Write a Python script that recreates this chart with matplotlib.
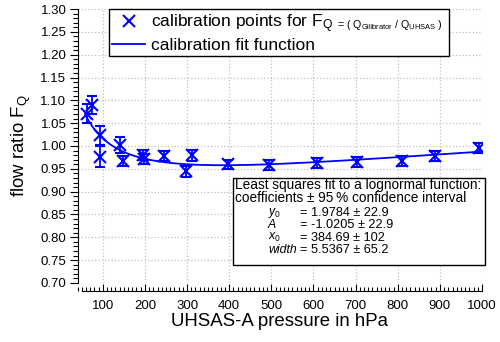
import numpy as np
import matplotlib
matplotlib.use("Agg")
import matplotlib.pyplot as plt
from matplotlib.patches import Rectangle
from matplotlib.lines import Line2D
from matplotlib.ticker import MultipleLocator

plt.rcParams['font.family'] = ['Liberation Sans', 'DejaVu Sans']
plt.rcParams['mathtext.fontset'] = 'custom'
plt.rcParams['mathtext.rm'] = 'Liberation Sans'
plt.rcParams['mathtext.it'] = 'Liberation Sans:italic'

# calibration points (pressure in hPa, flow ratio, error)
pressure = [63, 74, 93, 93, 142, 147, 196, 198, 246, 297, 311, 396,
            495, 609, 704, 810, 888, 992]
ratio = [1.071, 1.090, 1.023, 0.977, 1.002, 0.968, 0.980, 0.972, 0.978,
         0.945, 0.980, 0.960, 0.959, 0.962, 0.966, 0.968, 0.979, 0.995]
ratio_err = [0.021, 0.019, 0.020, 0.024, 0.018, 0.011, 0.011, 0.011, 0.011,
             0.012, 0.012, 0.010, 0.011, 0.011, 0.011, 0.011, 0.011, 0.011]

# lognormal fit coefficients (as printed in the box)
y0, A, x0, width = 1.9784, -1.0205, 384.69, 5.5367
coef_names = [r'$\mathit{y}_{\mathit{0}}$', 'A', r'$\mathit{x}_{\mathit{0}}$', 'width']
coef_vals = ['= 1.9784 \u00b1 22.9', '= -1.0205 \u00b1 22.9',
             '= 384.69 \u00b1 102', '= 5.5367 \u00b1 65.2']

W, H = 500, 342
blue = '#0000ff'

def fx(px):
    return px / W

def fy(py):
    return 1 - py / H

fig = plt.figure(figsize=(5, 3.42), dpi=100)
ax = fig.add_axes([fx(77.5), fy(283), fx(404.5), 274 / H])

xfit = np.linspace(58, 1000, 400)
yfit = y0 + A * np.exp(-(np.log(xfit / x0) / width) ** 2)

ax.errorbar(pressure, ratio, yerr=ratio_err, fmt='x', color=blue, ms=8.5, mew=1.5,
            elinewidth=1.3, capsize=3.5, capthick=1.3, zorder=3)
ax.plot(xfit, yfit, color=blue, lw=1.3, zorder=3)

ax.set_xlim(40, 1000)
ax.set_ylim(0.70, 1.30)
ax.xaxis.set_major_locator(MultipleLocator(100))
ax.xaxis.set_minor_locator(MultipleLocator(10))
ax.yaxis.set_major_locator(MultipleLocator(0.05))
ax.yaxis.set_minor_locator(MultipleLocator(0.01))
ax.yaxis.set_major_formatter(matplotlib.ticker.FormatStrFormatter('%.2f'))

for s in ['top', 'right']:
    ax.spines[s].set_visible(False)
ax.spines['bottom'].set_position(('outward', 6))
ax.spines['bottom'].set_bounds(50, 1000)
ax.tick_params(axis='x', which='major', direction='in', length=5, width=0.8, labelsize=9.5, pad=6)
ax.tick_params(axis='x', which='minor', direction='in', length=3, width=0.8)
ax.tick_params(axis='y', which='major', direction='out', length=6, width=0.8, labelsize=9.5, pad=2)
ax.tick_params(axis='y', which='minor', direction='out', length=3.5, width=0.8)
ax.grid(True, which='major', color='#c0c0c0', ls=':', lw=0.9)
ax.set_axisbelow(True)

ax.set_xlabel('UHSAS-A pressure in hPa', fontsize=13.4, labelpad=1)
ax.set_ylabel('flow ratio F$_\\mathrm{Q}$', fontsize=13.4, labelpad=5)

handles = [Line2D([], [], ls='none', marker='x', ms=8.5, mew=1.5, color=blue),
           Line2D([], [], color=blue, lw=1.3)]
labels = ['calibration points for F$_\\mathrm{Q}$', 'calibration fit function']
leg = ax.legend(handles, labels, loc='upper left', mode='expand', borderaxespad=0,
                bbox_to_anchor=(fx(109), fy(53), fx(340), 44 / H),
                bbox_transform=fig.transFigure, fancybox=False, framealpha=1,
                edgecolor='black', fontsize=12.5, handlelength=1.85, handletextpad=0.35,
                borderpad=0.2, labelspacing=0.15)
leg.get_frame().set_linewidth(1.0)

# small formula after F_Q in the legend
fig.canvas.draw()
r = fig.canvas.get_renderer()
bb = leg.get_texts()[0].get_window_extent(r)
fig.text(bb.x1 / W + 0.008, (bb.y0 + bb.y1) / 2 / H - 0.004,
         r'= ( Q$_{\mathrm{Gilibrator}}$ / Q$_{\mathrm{UHSAS}}$ )',
         fontsize=7.7, va='center', ha='left')

# fit result box
fig.patches.append(Rectangle((fx(233), fy(265)), fx(252), 87 / H, transform=fig.transFigure,
                             fill=True, facecolor='white', edgecolor='black', lw=1.0, zorder=5))
fig.text(fx(235), fy(185), 'Least squares fit to a lognormal function:', fontsize=9.8,
         va='center', zorder=6)
fig.text(fx(235), fy(198), 'coefficients \u00b1 95\u2009% confidence interval', fontsize=9.8,
         va='center', zorder=6)
for i, (nm, val) in enumerate(zip(coef_names, coef_vals)):
    yy = fy(212.5 + 12.6 * i)
    fig.text(fx(268), yy, nm, fontsize=8.8, va='center', zorder=6, fontstyle='italic')
    fig.text(fx(300), yy, val, fontsize=9.2, va='center', zorder=6)

fig.savefig('out.png', dpi=100)
